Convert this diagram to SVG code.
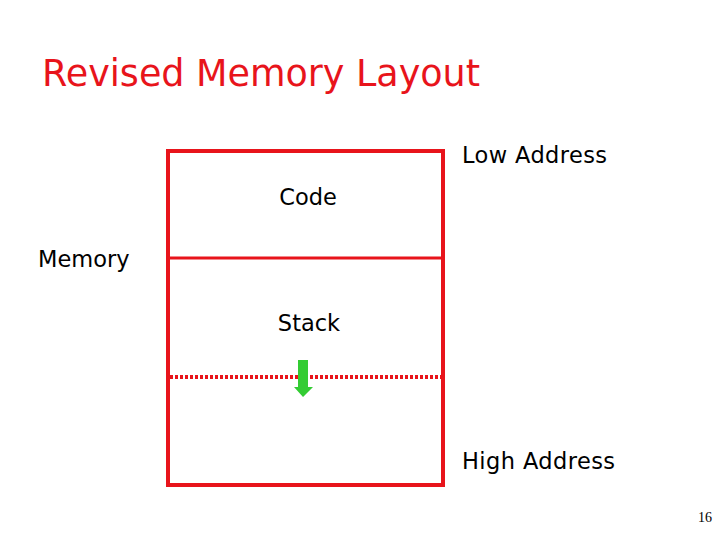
<svg xmlns="http://www.w3.org/2000/svg" width="720" height="540" viewBox="0 0 720 540">
<style>
.t{font-family:"DejaVu Sans","Liberation Sans",sans-serif;font-size:22.5px;fill:#000}
.r{stroke:#e8141b;fill:none}
</style>
<rect width="720" height="540" fill="#fff"/>
<text x="42" y="86" font-family="DejaVu Sans,sans-serif" font-size="36.5" fill="#e8141b" textLength="438">Revised Memory Layout</text>
<g id="memory">
<rect class="r" x="168" y="151" width="275" height="334" stroke-width="4"/>
<text class="t" x="38" y="267">Memory</text>
</g>
<g id="code">
<line class="r" x1="168" y1="258" x2="443" y2="258" stroke-width="3"/>
<text class="t" x="308" y="205" text-anchor="middle">Code</text>
</g>
<g id="stack">
<text class="t" x="309" y="331" text-anchor="middle">Stack</text>
</g>
<g id="connectors">
<line class="r" x1="170" y1="377" x2="441" y2="377" stroke-width="4" stroke-dasharray="3,2"/>
<polygon points="298,360 308,360 308,387 313,387 303,397 294,387 298,387" fill="#33cc33"/>
</g>
<text class="t" x="462" y="163" textLength="145">Low Address</text>
<text class="t" x="462" y="469" textLength="153">High Address</text>
<text x="712" y="522" font-family="Liberation Serif,serif" font-size="14" text-anchor="end">16</text>
</svg>
